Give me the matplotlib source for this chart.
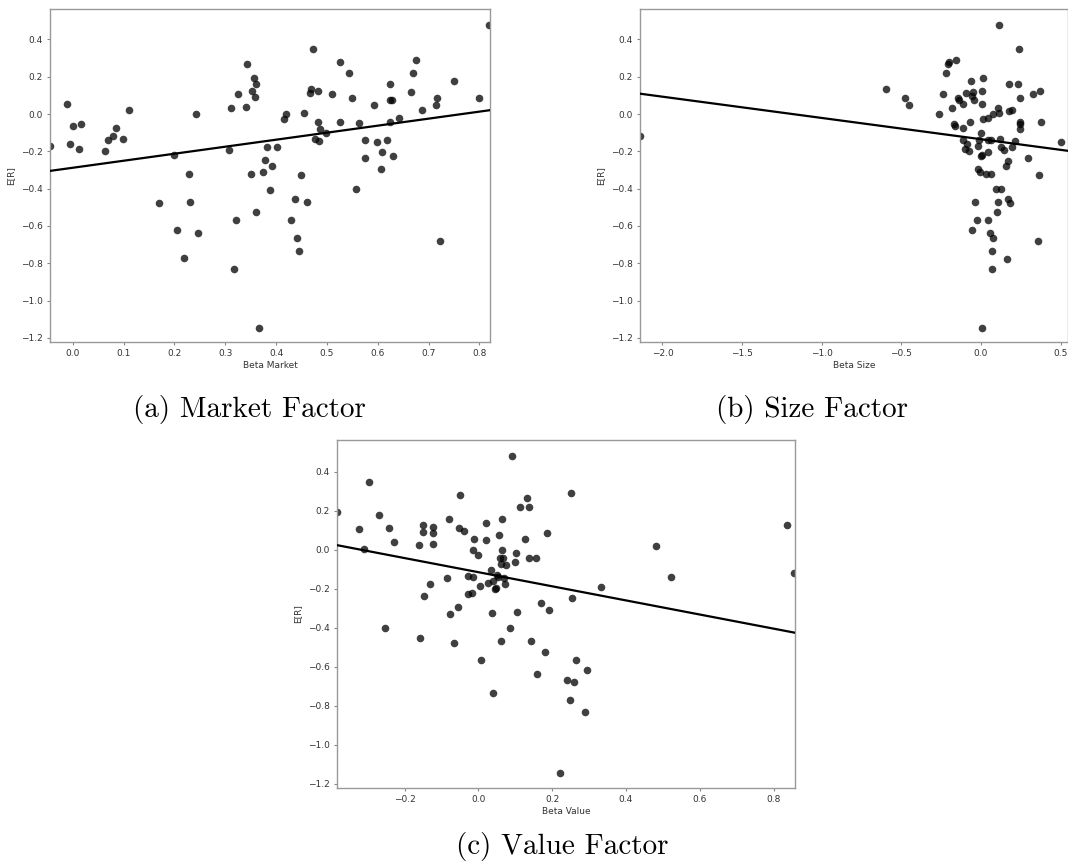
import numpy as np
import matplotlib
matplotlib.use("Agg")
import matplotlib.pyplot as plt

# (a) market betas and expected returns
beta_mkt = [-0.045, -0.011, 0.000, -0.005, 0.017, 0.012, 0.064, 0.070, 0.079, 0.086,
            0.098, 0.111, 0.169, 0.199, 0.205, 0.218, 0.229, 0.231, 0.243, 0.246,
            0.308, 0.312, 0.318, 0.322, 0.325, 0.342, 0.341, 0.353, 0.356, 0.361,
            0.358, 0.351, 0.361, 0.367, 0.375, 0.378, 0.382, 0.389, 0.392, 0.401,
            0.415, 0.420, 0.430, 0.437, 0.441, 0.445, 0.449, 0.456, 0.460, 0.467,
            0.468, 0.472, 0.482, 0.483, 0.486, 0.476, 0.484, 0.498, 0.511, 0.525,
            0.525, 0.544, 0.549, 0.558, 0.564, 0.575, 0.575, 0.593, 0.598, 0.609,
            0.607, 0.619, 0.625, 0.625, 0.628, 0.625, 0.630, 0.642, 0.666, 0.670,
            0.676, 0.687, 0.715, 0.717, 0.722, 0.751, 0.800, 0.820]
er_mkt = [-0.170, 0.055, -0.066, -0.159, -0.052, -0.187, -0.197, -0.141, -0.118, -0.075,
          -0.136, 0.019, -0.479, -0.222, -0.620, -0.773, -0.320, -0.470, 0.000, -0.638,
          -0.193, 0.032, -0.830, -0.568, 0.110, 0.266, 0.037, 0.126, 0.191, 0.159,
          0.093, -0.323, -0.525, -1.145, -0.309, -0.248, -0.179, -0.405, -0.277, -0.179,
          -0.029, 0.000, -0.568, -0.455, -0.666, -0.736, -0.329, 0.003, -0.470, 0.112,
          0.136, 0.346, 0.126, -0.043, -0.080, -0.136, -0.147, -0.104, 0.107, 0.280,
          -0.043, 0.220, 0.084, -0.404, -0.048, -0.141, -0.234, 0.046, -0.152, -0.204,
          -0.297, -0.141, 0.159, 0.075, 0.075, -0.043, -0.225, -0.020, 0.116, 0.220,
          0.289, 0.021, 0.050, 0.087, -0.680, 0.177, 0.084, 0.478]

# (b) size betas
beta_size = [-2.141, -0.598, -0.477, -0.450, -0.264, -0.237, -0.220, -0.209, -0.203, -0.159,
             -0.180, -0.169, -0.163, -0.142, -0.138, -0.115, -0.111, -0.094, -0.113, -0.090,
             -0.100, -0.077, -0.071, -0.061, -0.056, -0.048, -0.044, -0.040, -0.055, -0.023,
             -0.021, -0.017, -0.004, 0.000, 0.000, 0.006, 0.006, 0.010, 0.004, 0.006,
             0.013, -0.015, 0.031, 0.044, 0.046, 0.044, 0.044, 0.061, 0.063, 0.056,
             0.075, 0.067, 0.067, 0.077, 0.096, 0.126, 0.105, 0.100, 0.107, 0.113,
             0.111, 0.117, 0.126, 0.142, 0.155, 0.169, 0.165, 0.169, 0.180, 0.176,
             0.178, 0.197, 0.197, 0.213, 0.230, 0.237, 0.245, 0.243, 0.247, 0.247,
             0.295, 0.328, 0.362, 0.358, 0.372, 0.379, 0.500]
er_size = [-0.118, 0.136, 0.084, 0.046, -0.002, 0.110, 0.220, 0.268, 0.280, 0.289,
           0.032, -0.052, -0.066, 0.084, 0.075, -0.075, 0.052, 0.112, -0.141, -0.159,
           -0.188, -0.198, -0.043, 0.177, 0.094, 0.116, 0.073, -0.470, -0.620, -0.568,
           -0.170, -0.297, -0.311, -0.104, -0.225, -0.222, 0.126, 0.191, 0.055, -1.145,
           -0.029, -0.138, -0.323, -0.022, -0.141, -0.204, -0.568, -0.141, -0.320, -0.638,
           -0.666, -0.736, -0.830, -0.002, -0.404, -0.404, -0.470, -0.525, 0.035, 0.005,
           0.478, -0.136, -0.179, -0.195, -0.277, -0.250, -0.775, -0.455, -0.479, 0.159,
           0.018, 0.021, -0.179, -0.147, 0.159, 0.346, 0.087, -0.045, -0.052, -0.080,
           -0.234, 0.107, -0.329, -0.680, 0.126, -0.043, -0.150]

# (c) value betas
beta_val = [-0.382, -0.324, -0.309, -0.295, -0.268, -0.243, -0.228, -0.252, -0.162, -0.159,
            -0.149, -0.149, -0.146, -0.132, -0.124, -0.122, -0.122, -0.084, -0.079, -0.077,
            -0.065, -0.054, -0.052, -0.050, -0.038, -0.027, -0.027, -0.018, -0.015, -0.015,
            -0.011, 0.000, 0.005, 0.007, 0.020, 0.022, 0.027, 0.034, 0.036, 0.039,
            0.039, 0.044, 0.047, 0.051, 0.054, 0.055, 0.060, 0.062, 0.062, 0.063,
            0.064, 0.066, 0.069, 0.071, 0.074, 0.086, 0.091, 0.098, 0.101, 0.106,
            0.113, 0.127, 0.131, 0.137, 0.137, 0.143, 0.155, 0.160, 0.171, 0.251,
            0.185, 0.191, 0.180, 0.254, 0.333, 0.265, 0.294, 0.240, 0.258, 0.249,
            0.289, 0.221, 0.482, 0.521, 0.837, 0.856]
er_val = [0.193, 0.108, 0.005, 0.346, 0.178, 0.113, 0.038, -0.403, 0.024, -0.454,
          0.125, 0.089, -0.235, -0.178, 0.118, 0.084, 0.032, -0.144, 0.159, -0.329,
          -0.478, -0.295, 0.113, 0.283, 0.094, -0.136, -0.226, -0.221, -0.141, 0.000,
          0.057, -0.029, -0.187, -0.567, 0.048, 0.137, -0.170, -0.103, -0.324, -0.158,
          -0.737, -0.199, -0.195, -0.132, -0.141, 0.077, -0.040, -0.074, -0.470, 0.000,
          0.159, -0.043, -0.146, -0.178, -0.079, -0.403, 0.479, -0.065, -0.017, -0.319,
          0.221, 0.053, 0.267, 0.221, -0.041, -0.470, -0.041, -0.637, -0.275, 0.291,
          0.085, -0.308, -0.524, -0.249, -0.192, -0.567, -0.619, -0.666, -0.680, -0.773,
          -0.831, -1.144, 0.019, -0.141, 0.126, -0.118]

# fitted lines: (intercept, slope)
fit_mkt = (-0.288, 0.376)
fit_size = (-0.135, -0.114)
fit_val = (-0.115, -0.362)

W, H = 1068, 863
fig = plt.figure(figsize=(W / 100, H / 100), dpi=100)


def panel(box, x, y, fit, xlim, xticks, xlabel):
    l, t, r, b = box
    ax = fig.add_axes([l / W, 1 - b / H, (r - l) / W, (b - t) / H])
    ax.scatter(x, y, s=30, color="k", alpha=0.75, linewidths=0, zorder=2)
    xs = np.array(xlim)
    ax.plot(xs, fit[0] + fit[1] * xs, color="k", lw=1.6, zorder=3)
    ax.set_xlim(xlim)
    ax.set_ylim(-1.222, 0.563)
    ax.set_xticks(xticks)
    ax.set_yticks(np.arange(-1.2, 0.41, 0.2))
    ax.set_xlabel(xlabel, fontsize=6.5, color="#333333", labelpad=2.5)
    ax.set_ylabel("E[R]", fontsize=6.5, color="#333333", labelpad=4)
    ax.tick_params(labelsize=6.5, labelcolor="#333333", color="#888888",
                   length=2.5, width=0.8, pad=2.5)
    for s in ax.spines.values():
        s.set_color("#999999")
        s.set_linewidth(1.0)
    return ax


panel((50, 9, 490, 342), beta_mkt, er_mkt, fit_mkt, (-0.0447, 0.821),
      np.arange(0, 0.81, 0.1), "Beta Market")
panel((640, 9, 1068, 342), beta_size, er_size, fit_size, (-2.141, 0.546),
      np.arange(-2.0, 0.51, 0.5), "Beta Size")
panel((337, 440, 795, 788), beta_val, er_val, fit_val, (-0.383, 0.858),
      np.arange(-0.2, 0.81, 0.2), "Beta Value")

cap = dict(fontsize=21, family="cmr10", ha="center", va="center")
fig.text(249 / W, 1 - 409 / H, "(a) Market Factor", **cap)
fig.text(812 / W, 1 - 409 / H, "(b) Size Factor", **cap)
fig.text(562 / W, 1 - 846 / H, "(c) Value Factor", **cap)

fig.savefig("out.png", dpi=100)
